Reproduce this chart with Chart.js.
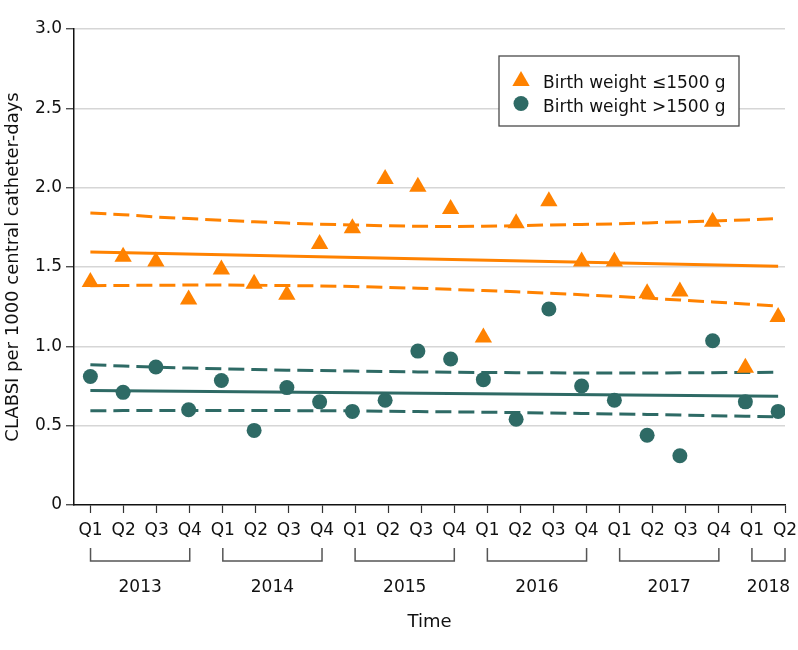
<!DOCTYPE html>
<html><head><meta charset="utf-8">
<script src="https://cdn.jsdelivr.net/npm/chart.js@4.4.1/dist/chart.umd.min.js"></script>
<style>html,body{margin:0;padding:0;background:#fff}#wrap{width:798px;height:650px}</style>
</head><body><div id="wrap"><canvas id="c" width="798" height="650"></canvas></div>
<script>
// ---- data ----
const quarterLabels = ['Q1','Q2','Q3','Q4','Q1','Q2','Q3','Q4','Q1','Q2','Q3','Q4','Q1','Q2','Q3','Q4','Q1','Q2','Q3','Q4','Q1','Q2'];
const years = ['2013','2014','2015','2016','2017','2018'];
const quartersPerYear = [4,4,4,4,4,2];
const yTickValues = [0,0.5,1,1.5,2,2.5,3];

const lowWeightRates = [1.405,1.565,1.535,1.295,1.485,1.395,1.325,1.645,1.745,2.055,2.005,1.865,1.055,1.775,1.915,1.535,1.535,1.335,1.345,1.785,0.865,1.185];
const highWeightRates = [0.81,0.71,0.87,0.60,0.785,0.47,0.74,0.65,0.59,0.66,0.97,0.92,0.79,0.54,1.235,0.75,0.66,0.44,0.31,1.035,0.65,0.59];

const lowTrend = [1.594,1.505];          // fitted line, first and last quarter
const lowUpper = [1.84,1.83,1.815,1.805,1.795,1.785,1.777,1.77,1.765,1.76,1.757,1.755,1.757,1.76,1.765,1.768,1.772,1.778,1.784,1.79,1.797,1.805];
const lowLower = [1.382,1.384,1.385,1.386,1.386,1.385,1.383,1.381,1.377,1.372,1.366,1.359,1.352,1.344,1.335,1.325,1.315,1.304,1.292,1.28,1.267,1.253];

const highTrend = [0.722,0.685];
const highUpper = [0.884,0.876,0.869,0.863,0.858,0.854,0.85,0.847,0.844,0.841,0.839,0.837,0.835,0.834,0.833,0.832,0.832,0.832,0.833,0.834,0.835,0.837];
const highLower = [0.594,0.595,0.595,0.596,0.596,0.596,0.595,0.594,0.593,0.591,0.589,0.587,0.585,0.583,0.58,0.577,0.574,0.571,0.567,0.563,0.56,0.556];

// ---- style ----
const ORANGE = '#FF8200';
const TEAL = '#2E6A65';
const TEXT = '#111111';
const FONT = 'DejaVu Sans';

const pts = arr => arr.map((v,i)=>({x:i,y:v}));
const ends = arr => [{x:0,y:arr[0]},{x:quarterLabels.length-1,y:arr[1]}];

Chart.defaults.font.family = FONT;
Chart.defaults.font.size = 17;
Chart.defaults.color = TEXT;

const lineDs = (data,color,dashed) => ({
  type:'line', data, xAxisID:'xd', borderColor:color, borderWidth:3,
  borderDash: dashed ? [16,7] : [], pointRadius:0, fill:false, tension:0, order:2
});

const bracketPlugin = {
  id:'brackets',
  afterDraw(chart){
    const ctx = chart.ctx, xs = chart.scales.x;
    let start = 0;
    ctx.save();
    ctx.strokeStyle = '#555555'; ctx.lineWidth = 1.5;
    ctx.fillStyle = TEXT; ctx.font = '17px "'+FONT+'"';
    ctx.textAlign = 'center'; ctx.textBaseline = 'middle';
    years.forEach((yr,k)=>{
      const end = start + quartersPerYear[k] - 1;
      const x1 = xs.getPixelForValue(start), x2 = xs.getPixelForValue(end);
      ctx.beginPath();
      ctx.moveTo(x1,548); ctx.lineTo(x1,561); ctx.lineTo(x2,561); ctx.lineTo(x2,548);
      ctx.stroke();
      ctx.fillText(yr,(x1+x2)/2,588);
      start = end + 1;
    });
    // legend
    const bx=499, by=56, bw=240, bh=70;
    ctx.fillStyle='#fff'; ctx.fillRect(bx,by,bw,bh);
    ctx.strokeStyle='#4a4a4a'; ctx.lineWidth=1.3; ctx.strokeRect(bx,by,bw,bh);
    const r=10, cx=521, cy=81;
    ctx.fillStyle=ORANGE; ctx.beginPath();
    ctx.moveTo(cx,cy-r);
    ctx.lineTo(cx+Math.sin(Math.PI*2/3)*r, cy+r/2);
    ctx.lineTo(cx-Math.sin(Math.PI*2/3)*r, cy+r/2);
    ctx.closePath(); ctx.fill();
    ctx.fillStyle=TEAL; ctx.beginPath(); ctx.arc(521,103.5,7.5,0,Math.PI*2); ctx.fill();
    ctx.fillStyle=TEXT; ctx.textAlign='left'; ctx.textBaseline='alphabetic';
    ctx.fillText(chart.data.datasets[0].label,543,87.5);
    ctx.fillText(chart.data.datasets[1].label,543,112);
    ctx.restore();
  }
};

new Chart(document.getElementById('c'),{
  type:'scatter',
  data:{datasets:[
    {label:'Birth weight \u22641500 g', data:pts(lowWeightRates), xAxisID:'xd', pointStyle:'triangle', pointRadius:10, pointHoverRadius:10, backgroundColor:ORANGE, borderWidth:0, order:0},
    {label:'Birth weight >1500 g', data:pts(highWeightRates), xAxisID:'xd', pointStyle:'circle', pointRadius:7.5, pointHoverRadius:7.5, backgroundColor:TEAL, borderWidth:0, order:1},
    lineDs(ends(lowTrend),ORANGE,false),
    lineDs(pts(lowUpper),ORANGE,true),
    lineDs(pts(lowLower),ORANGE,true),
    lineDs(ends(highTrend),TEAL,false),
    lineDs(pts(highUpper),TEAL,true),
    lineDs(pts(highLower),TEAL,true)
  ]},
  options:{
    responsive:false, animation:false,
    layout:{padding:{top:29,right:13,left:0,bottom:0}},
    plugins:{legend:{display:false}, tooltip:{enabled:false}},
    scales:{
      x:{
        type:'linear', position:'bottom', min:-0.5, max:quarterLabels.length-1,
        afterBuildTicks: s => { s.ticks = quarterLabels.map((_,i)=>({value:i})); },
        afterFit: s => { s.height = 145; s.paddingLeft = 0; s.paddingRight = 0; },
        ticks:{ callback:(v,i)=>quarterLabels[i], padding:7, maxRotation:0, autoSkip:false, color:TEXT, font:{size:17}},
        grid:{ drawOnChartArea:false, drawTicks:true, tickLength:8, tickColor:'#333', tickWidth:1.2 },
        border:{ color:'#111', width:1.5 },
        title:{ display:true, text:'Time', color:TEXT, font:{size:18}, padding:{top:0,bottom:17} }
      },
      xd:{ type:'linear', display:false, min:-0.5, max:21.21 },
      y:{
        min:0, max:3,
        afterBuildTicks: s => { s.ticks = yTickValues.map(v=>({value:v})); },
        afterFit: s => { s.width = 74; },
        ticks:{ callback: v => v===0 ? '0' : v.toFixed(1), padding:4, color:TEXT, font:{size:17}},
        grid:{ color: c => c.tick && c.tick.value===0 ? 'rgba(0,0,0,0)' : '#d6d6d6', lineWidth:1.5, tickLength:8, tickColor:'#333', tickWidth:1.2 },
        border:{ color:'#111', width:1.5 },
        title:{ display:true, text:'CLABSI per 1000 central catheter-days', color:TEXT, font:{size:18}, padding:{top:3,bottom:0} }
      }
    }
  },
  plugins:[bracketPlugin]
});
</script>
</body></html>
